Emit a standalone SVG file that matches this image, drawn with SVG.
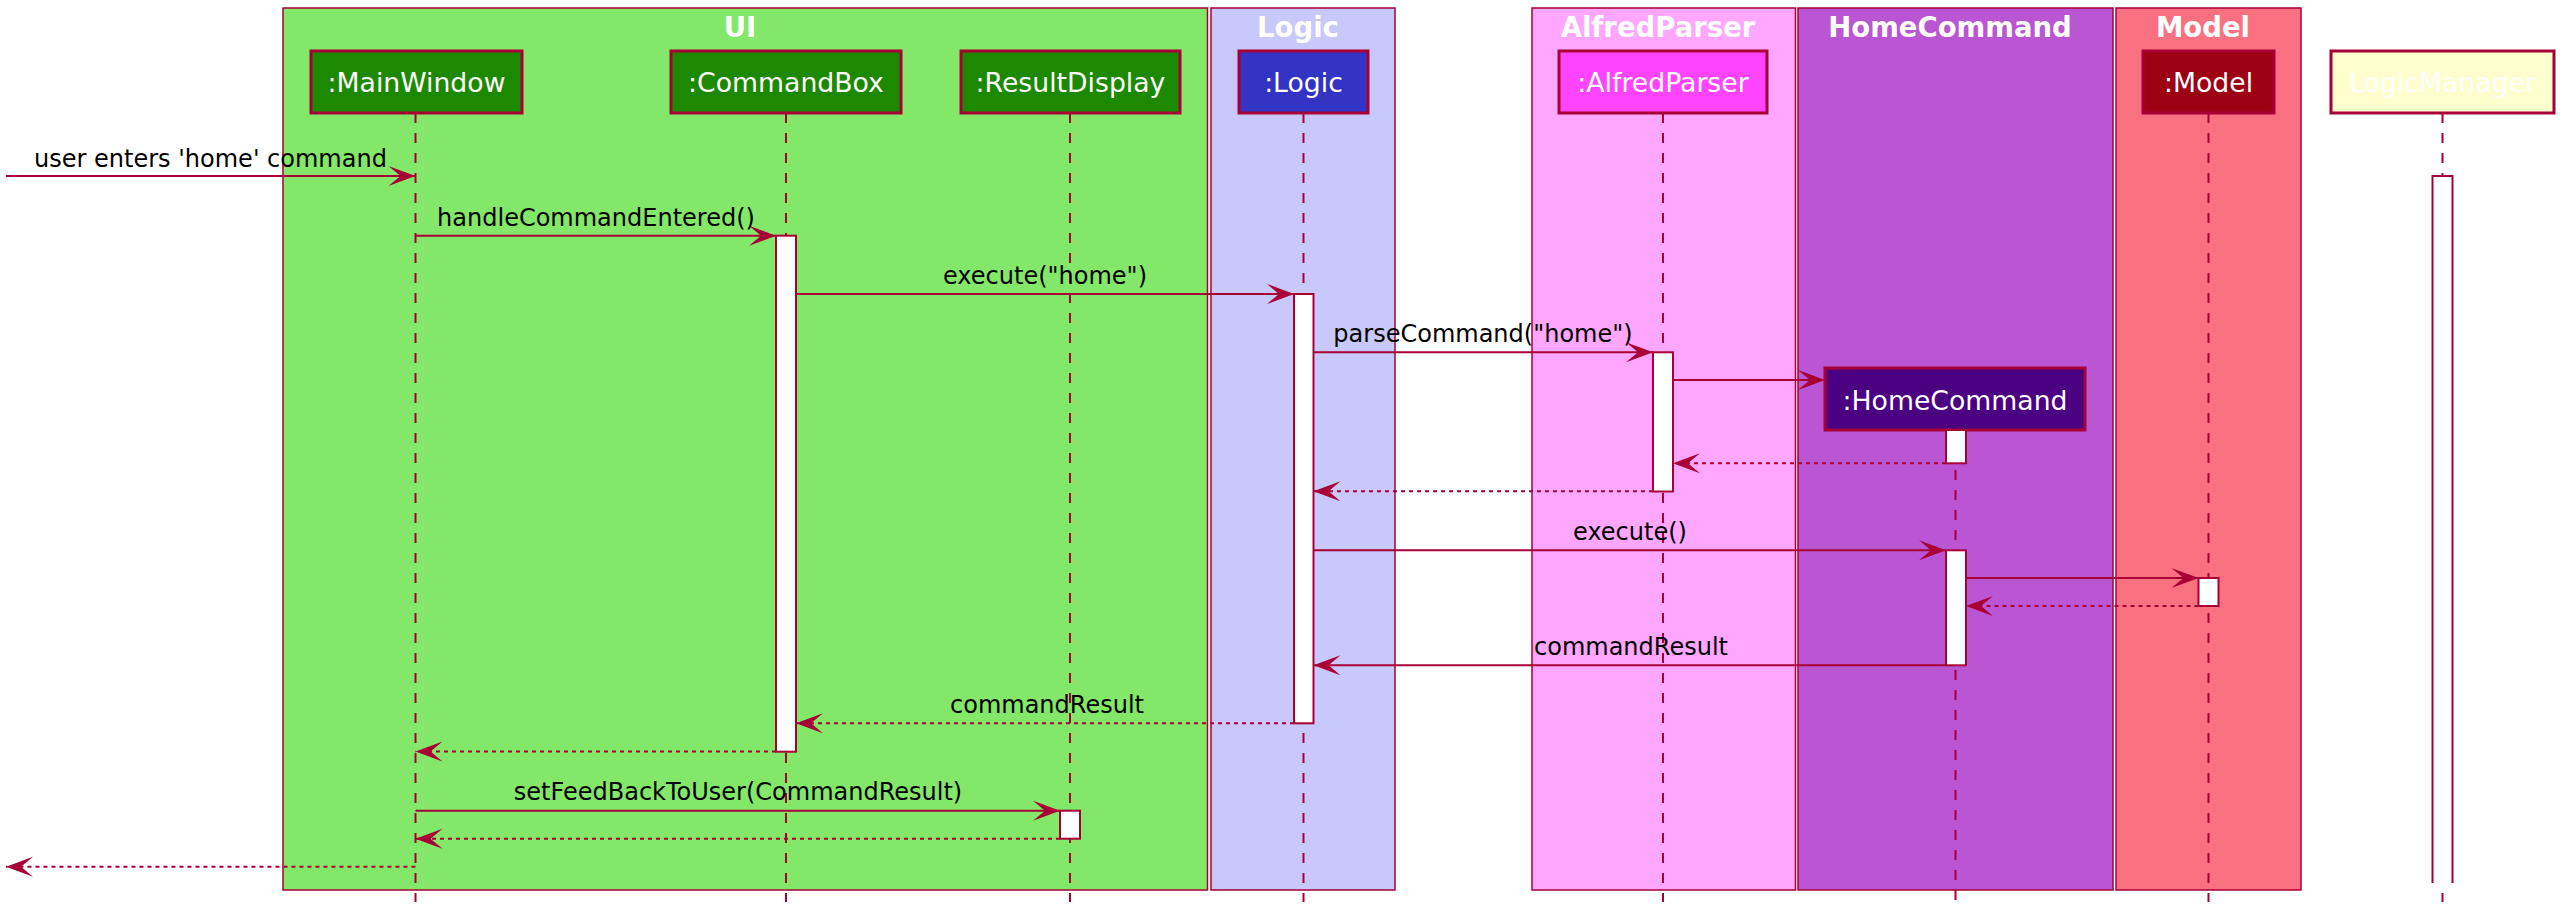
<svg xmlns="http://www.w3.org/2000/svg" width="2572" height="924" viewBox="0 0 2572 924">
<defs>
<style>
.grp{stroke:#A80036;stroke-width:1.5}
.title{font-family:"DejaVu Sans",sans-serif;font-weight:bold;font-size:27.5px;fill:#FFFFFF;text-anchor:middle}
.part{stroke:#A80036;stroke-width:3}
.ptxt{font-family:"DejaVu Sans",sans-serif;font-size:26.7px;fill:#FFFFFF;text-anchor:middle}
.life{stroke:#A80036;stroke-width:2;stroke-dasharray:10,10;fill:none}
.act{fill:#FFFFFF;stroke:#A80036;stroke-width:2}
.msg{stroke:#A80036;stroke-width:2;fill:none;marker-end:url(#ah)}
.ret{stroke:#A80036;stroke-width:2;fill:none;stroke-dasharray:4,4;marker-end:url(#ah)}
.lbl{font-family:"DejaVu Sans",sans-serif;font-size:24px;fill:#000000;text-anchor:middle}
</style>
<marker id="ah" markerUnits="userSpaceOnUse" markerWidth="28" markerHeight="22" viewBox="0 0 28 22" refX="27" refY="10" orient="auto">
<path d="M0,0 L27,10 L0,20 L12,10 Z" fill="#A80036"/>
</marker>
</defs>
<rect width="2572" height="924" fill="#FFFFFF"/>

<g id="box-UI">
<rect class="grp" x="283" y="8" width="924.5" height="882" fill="#83E769"/>
<text class="title" x="740" y="36.5">UI</text>
</g>
<g id="box-Logic">
<rect class="grp" x="1211" y="8" width="184" height="882" fill="#C8C8FA"/>
<text class="title" x="1298" y="36.5">Logic</text>
</g>
<g id="box-AlfredParser">
<rect class="grp" x="1532" y="8" width="263.5" height="882" fill="#FFA6FF"/>
<text class="title" x="1658" y="36.5">AlfredParser</text>
</g>
<g id="box-HomeCommand">
<rect class="grp" x="1798" y="8" width="315" height="882" fill="#BA55D3"/>
<text class="title" x="1950" y="36.5">HomeCommand</text>
</g>
<g id="box-Model">
<rect class="grp" x="2116" y="8" width="185" height="882" fill="#F97181"/>
<text class="title" x="2203" y="36.5">Model</text>
</g>

<g id="MainWindow">
<line class="life" x1="415.5" y1="113" x2="415.5" y2="902"/>
<rect class="part" x="311" y="51" width="211" height="62" fill="#1D8900"/>
<text class="ptxt" x="416.5" y="91.7">:MainWindow</text>
</g>
<g id="CommandBox">
<line class="life" x1="786" y1="113" x2="786" y2="902"/>
<rect class="part" x="671" y="51" width="230" height="62" fill="#1D8900"/>
<text class="ptxt" x="786" y="91.7">:CommandBox</text>
<rect class="act" x="776" y="235.7" width="20" height="516"/>
</g>
<g id="ResultDisplay">
<line class="life" x1="1070" y1="113" x2="1070" y2="902"/>
<rect class="part" x="961" y="51" width="219" height="62" fill="#1D8900"/>
<text class="ptxt" x="1070.5" y="91.7">:ResultDisplay</text>
<rect class="act" x="1060" y="810.7" width="20" height="28"/>
</g>
<g id="Logic">
<line class="life" x1="1303.5" y1="113" x2="1303.5" y2="902"/>
<rect class="part" x="1239" y="51" width="129" height="62" fill="#3333C4"/>
<text class="ptxt" x="1303.5" y="91.7">:Logic</text>
<rect class="act" x="1294" y="294" width="19.5" height="429.3"/>
</g>
<g id="AlfredParser">
<line class="life" x1="1663" y1="113" x2="1663" y2="902"/>
<rect class="part" x="1559" y="51" width="208" height="62" fill="#FF44FF"/>
<text class="ptxt" x="1663" y="91.7">:AlfredParser</text>
<rect class="act" x="1653" y="352.3" width="20" height="139.2"/>
</g>
<g id="HomeCommand">
<line class="life" x1="1955.5" y1="430" x2="1955.5" y2="902"/>
<rect class="part" x="1825" y="368" width="260" height="62" fill="#4B0082"/>
<text class="ptxt" x="1955" y="409.5">:HomeCommand</text>
<rect class="act" x="1946" y="430" width="20" height="33.3"/>
<rect class="act" x="1946" y="550.3" width="20" height="115"/>
</g>
<g id="Model">
<line class="life" x1="2208.5" y1="113" x2="2208.5" y2="902"/>
<rect class="part" x="2143" y="51" width="131" height="62" fill="#9D0012"/>
<text class="ptxt" x="2208.5" y="91.7">:Model</text>
<rect class="act" x="2198.5" y="578" width="20" height="28"/>
</g>
<g id="LogicManager">
<line class="life" x1="2442.5" y1="113" x2="2442.5" y2="902"/>
<rect class="part" x="2331" y="51" width="223" height="62" fill="#FEFECE"/>
<text class="ptxt" x="2442.5" y="91.7">LogicManager</text>
<rect x="2432.5" y="176" width="20" height="707" fill="#FFFFFF"/>
<path d="M2432.5,883 V176 H2452.5 V883" fill="none" stroke="#A80036" stroke-width="2"/>
</g>

<g id="connectors">
<path class="msg" d="M6,176 H415.5"/>
<text class="lbl" x="210.5" y="166.5">user enters 'home' command</text>
<path class="msg" d="M415.5,235.7 H776"/>
<text class="lbl" x="596" y="225.5">handleCommandEntered()</text>
<path class="msg" d="M796,294 H1294"/>
<text class="lbl" x="1045" y="283.5">execute("home")</text>
<path class="msg" d="M1313.5,352.3 H1653"/>
<text class="lbl" x="1483" y="342">parseCommand("home")</text>
<path class="msg" d="M1673,380 H1825"/>
<path class="ret" d="M1946,463.3 H1673"/>
<path class="ret" d="M1653,491.3 H1313.5"/>
<path class="msg" d="M1313.5,550.3 H1946"/>
<text class="lbl" x="1630" y="540">execute()</text>
<path class="msg" d="M1966,578 H2198.5"/>
<path class="ret" d="M2198.5,606 H1966"/>
<path class="msg" d="M1946,665.3 H1313.5"/>
<text class="lbl" x="1631" y="654.5">commandResult</text>
<path class="ret" d="M1294,723.3 H796"/>
<text class="lbl" x="1047" y="713">commandResult</text>
<path class="ret" d="M776,751.5 H415.5"/>
<path class="msg" d="M415.5,810.7 H1060"/>
<text class="lbl" x="738" y="800">setFeedBackToUser(CommandResult)</text>
<path class="ret" d="M1060,838.7 H415.5"/>
<path class="ret" d="M415.5,866.7 H6"/>
</g>
</svg>
